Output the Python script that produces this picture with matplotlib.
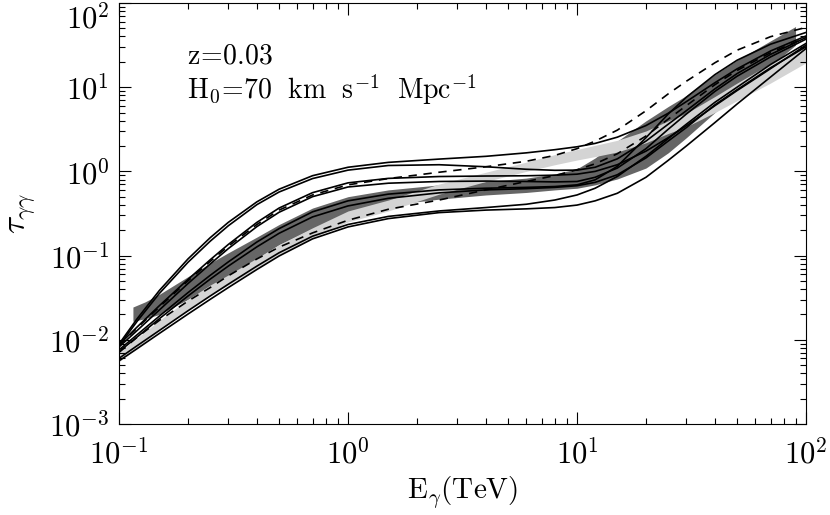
import matplotlib
matplotlib.use('Agg')
import matplotlib.pyplot as plt
import numpy as np
from matplotlib.ticker import LogLocator, FuncFormatter, NullFormatter

plt.rcParams['mathtext.fontset'] = 'cm'

# photon energy grid (TeV)
energy = [0.1, 0.12, 0.15, 0.2, 0.25, 0.3, 0.4, 0.5, 0.7, 1.0, 1.5, 2.5, 4, 6, 8,
          10, 12, 15, 20, 25, 30, 40, 50, 70, 100]

# optical depth, solid model curves
tau_a1 = [0.0089, 0.0178, 0.0385, 0.0912, 0.163, 0.248, 0.435, 0.614, 0.889, 1.12, 1.28, 1.40, 1.51,
          1.66, 1.81, 1.96, 2.15, 2.55, 3.50, 4.90, 6.73, 11.3, 16.5, 26.9, 40.6]
tau_a2 = [0.0085, 0.0166, 0.0355, 0.0832, 0.148, 0.226, 0.403, 0.569, 0.822, 1.035, 1.175, 1.20, 1.135,
          1.06, 1.03, 1.035, 1.12, 1.41, 2.29, 3.63, 5.25, 9.55, 14.5, 24.5, 38.9]
tau_b1 = [0.0087, 0.0142, 0.0254, 0.0521, 0.0891, 0.1355, 0.248, 0.367, 0.559, 0.731, 0.826, 0.869, 0.881,
          0.887, 0.902, 0.927, 1.0, 1.20, 1.74, 2.51, 3.47, 6.03, 9.12, 16.6, 31.6]
tau_b2 = [0.0082, 0.0129, 0.0226, 0.0465, 0.0794, 0.121, 0.221, 0.327, 0.501, 0.653, 0.724, 0.759, 0.767,
          0.759, 0.75, 0.759, 0.851, 1.096, 1.86, 3.16, 4.79, 8.91, 13.5, 22.9, 37.2]
tau_c1 = [0.00562, 0.00785, 0.0119, 0.0202, 0.0302, 0.0417, 0.0684, 0.0989, 0.158, 0.219, 0.275, 0.324, 0.347,
          0.359, 0.372, 0.398, 0.447, 0.55, 0.851, 1.35, 2.0, 3.8, 6.31, 13.2, 28.8]
tau_c2 = [0.00603, 0.00851, 0.0129, 0.0221, 0.0331, 0.0457, 0.075, 0.108, 0.17, 0.234, 0.292, 0.339, 0.372,
          0.407, 0.457, 0.525, 0.631, 0.871, 1.51, 2.45, 3.63, 6.61, 10.0, 18.6, 33.1]
tau_c3 = [0.00759, 0.0115, 0.0191, 0.0363, 0.0582, 0.0841, 0.145, 0.209, 0.331, 0.447, 0.537, 0.603, 0.631,
          0.646, 0.661, 0.692, 0.794, 1.15, 2.51, 4.79, 7.59, 14.1, 20.9, 32.4, 44.7]
tau_c4 = [0.00724, 0.0108, 0.0178, 0.0331, 0.0525, 0.075, 0.127, 0.184, 0.288, 0.389, 0.479, 0.556, 0.603,
          0.624, 0.646, 0.676, 0.741, 0.912, 1.445, 2.29, 3.31, 6.17, 9.33, 17.0, 30.2]

# dashed model curves
tau_bd = [0.0085, 0.0138, 0.0245, 0.0501, 0.0851, 0.129, 0.234, 0.347, 0.525, 0.692, 0.822, 0.977, 1.135,
          1.318, 1.549, 1.862, 2.29, 3.09, 5.25, 8.32, 11.75, 19.5, 27.5, 39.8, 51.3]
tau_ld = [0.00708, 0.0107, 0.017, 0.0288, 0.0417, 0.0575, 0.0912, 0.126, 0.186, 0.263, 0.355, 0.457, 0.603,
          0.759, 0.891, 1.047, 1.23, 1.62, 2.63, 4.17, 6.03, 10.7, 15.8, 25.7, 38.9]

# dark grey band
dark_energy = [0.115, 0.13, 0.15, 0.2, 0.25, 0.3, 0.4, 0.5, 0.7, 1.0, 1.5, 2.5, 4, 6, 8,
               10, 12, 15, 20, 25, 30, 40, 50, 70, 90]
dark_hi = [0.0245, 0.0282, 0.0347, 0.0562, 0.0813, 0.108, 0.166, 0.234, 0.367, 0.501, 0.603, 0.692, 0.759,
           0.832, 0.933, 1.072, 1.445, 2.29, 3.98, 5.89, 7.94, 14.1, 20.9, 35.5, 52.5]
dark_lo = [0.0166, 0.0178, 0.0200, 0.0302, 0.0427, 0.0569, 0.0912, 0.135, 0.209, 0.316, 0.398, 0.468, 0.525,
           0.562, 0.603, 0.631, 0.692, 0.813, 1.096, 1.66, 2.51, 5.01, 8.32, 17.8, 31.6]

# light grey band (on the energy grid)
light_hi = [0.00716, 0.0105, 0.0170, 0.0302, 0.0447, 0.0589, 0.0933, 0.135, 0.214, 0.339, 0.457, 0.708, 0.977,
            1.288, 1.585, 1.82, 2.04, 2.34, 3.02, 3.98, 4.90, 7.76, 11.2, 19.1, 31.6]
light_lo = [0.0055, 0.00794, 0.0129, 0.0229, 0.0339, 0.0447, 0.0708, 0.102, 0.162, 0.251, 0.339, 0.537, 0.759,
            1.0, 1.20, 1.365, 1.50, 1.70, 2.19, 2.82, 3.39, 5.01, 6.92, 11.2, 19.5]

solid_models = [tau_a1, tau_a2, tau_b1, tau_b2, tau_c1, tau_c2, tau_c3, tau_c4]
dashed_models = [tau_bd, tau_ld]

fig = plt.figure(figsize=(8.3, 5.15), dpi=100)
ax = fig.add_axes([0.1434, 0.1767, 0.8277, 0.8175])

ax.fill_between(dark_energy, dark_lo, dark_hi, color='#666666', lw=0)
ax.fill_between(energy, light_lo, light_hi, color='#d4d4d4', lw=0)
for t in solid_models:
    ax.plot(energy, t, color='k', lw=1.2)
for t in dashed_models:
    ax.plot(energy, t, color='k', lw=1.2, ls=(0, (5, 4)))

ax.set_xscale('log')
ax.set_yscale('log')
ax.set_xlim(0.1, 100)
ax.set_ylim(1e-3, 1e2)

fmt = FuncFormatter(lambda v, pos: r'$10^{%d}$' % int(round(np.log10(v))))
for axis in (ax.xaxis, ax.yaxis):
    axis.set_major_locator(LogLocator(base=10, numticks=10))
    axis.set_minor_locator(LogLocator(base=10, subs=np.arange(2, 10), numticks=20))
    axis.set_major_formatter(fmt)
    axis.set_minor_formatter(NullFormatter())

ax.tick_params(which='both', direction='in', top=True, right=True, width=0.8, labelsize=22)
ax.tick_params(which='major', length=8.5)
ax.tick_params(which='minor', length=4.3)
ax.tick_params(axis='x', pad=10)
ax.tick_params(axis='y', pad=7)
for s in ax.spines.values():
    s.set_linewidth(0.8)

ax.set_xlabel(r'$\mathrm{E_{\gamma}(TeV)}$', fontsize=21, labelpad=4)
ax.set_ylabel(r'$\tau_{\gamma\gamma}$', fontsize=24, labelpad=8)

ax.text(0.099, 0.857, r'$\mathrm{z\!=\!0.03}$', transform=ax.transAxes, fontsize=20, va='baseline')
ax.text(0.099, 0.772, r'$\mathrm{H_0\!=\!70\ \ km\ \ s^{-1}\ \ Mpc^{-1}}$', transform=ax.transAxes,
        fontsize=20, va='baseline')

# keep the top y label inside the figure
fig.canvas.draw()
for tick in ax.yaxis.get_major_ticks():
    if abs(tick.get_loc() - 100) < 1e-6:
        tick.label1.set_verticalalignment('top')

fig.savefig('out.png', dpi=100)
